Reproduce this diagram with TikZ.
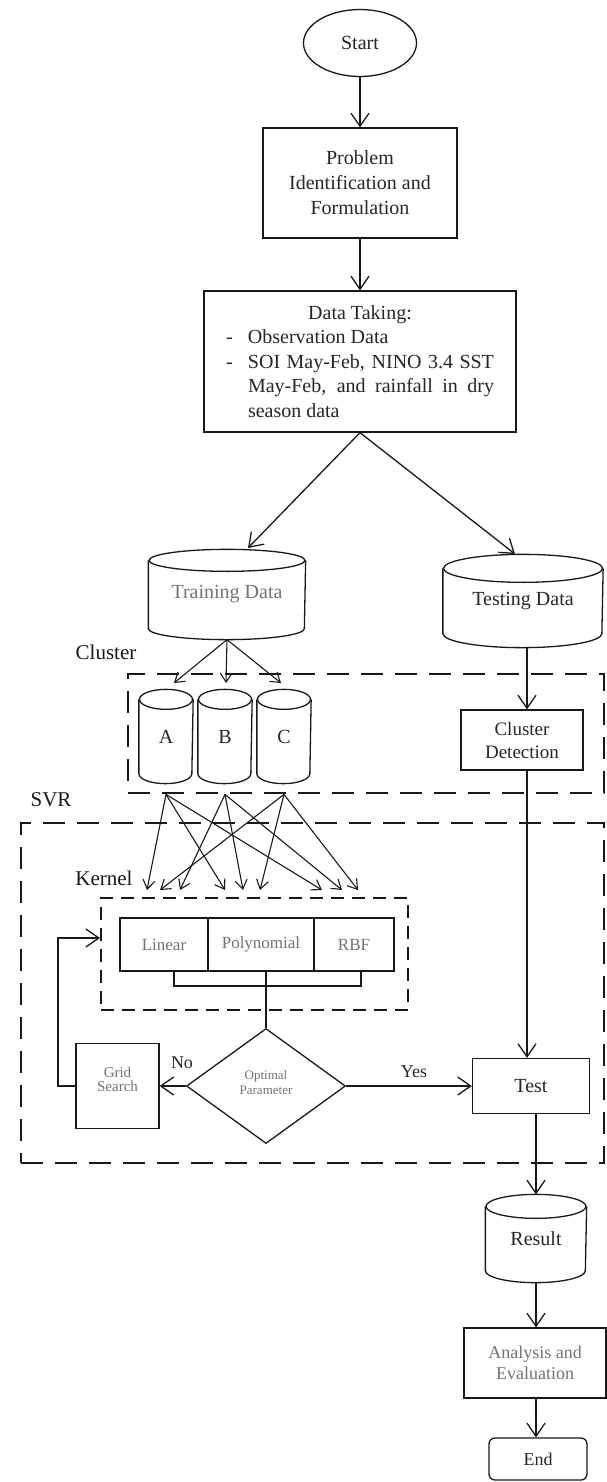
\documentclass[tikz,border=0pt]{standalone}
\usepackage{fontspec}
\setmainfont{Liberation Serif}
\usetikzlibrary{shapes.geometric,arrows.meta,calc}
\newcommand\cylout[3]{%
  \draw ([yshift=-#3pt]#1.north) ellipse [x radius=#2pt, y radius=#3pt];
  \draw ([yshift=-#3pt]#1.north west) -- ([yshift=#3pt]#1.south west)
     arc [start angle=180, end angle=360, x radius=#2pt, y radius=#3pt]
     -- ([yshift=-#3pt]#1.north east);}
\begin{document}
\begin{tikzpicture}[x=1pt,y=-1pt, line width=1.3pt, color=black!90,
  base/.style={font=\fontsize{20}{25}\selectfont, text=black!85, inner sep=0pt, align=center},
  box/.style={base, draw, rectangle},
  cylbody/.style={base, rectangle},
  faint/.style={text=black!55},
  lbl/.style={base, font=\fontsize{21}{24}\selectfont, text=black!90},
  arr/.style={-{Straight Barb[length=13pt,width=18pt]}},
  sarr/.style={line width=1.1pt, -{Straight Barb[length=9pt,width=12pt]}},
  bigdash/.style={draw, rectangle, line width=2.8pt, dash pattern=on 22pt off 12pt, inner sep=0pt},
  kdash/.style={draw, rectangle, line width=2pt, dash pattern=on 13pt off 8pt, inner sep=0pt},
]
\fill[white] (0,0) rectangle (607,1482);
\useasboundingbox (0,0) rectangle (607,1482);

% main column
\node[base, draw, ellipse, minimum width=113pt, minimum height=67pt] (start) at (360,43) {Start};
\node[box, minimum width=194pt, minimum height=110pt] (prob) at (360,183) {Problem\\Identification and\\Formulation};
\node[box, minimum width=312pt, minimum height=141pt] (data) at (360,361.5) {\parbox{268pt}{\fontsize{20}{24.5}\selectfont
{\centering Data Taking:\par}
\hangindent=22pt\hangafter=1\noindent\makebox[22pt][l]{-}Observation Data\par
\hangindent=22pt\hangafter=1\noindent\makebox[22pt][l]{-}SOI May-Feb, NINO 3.4 SST\linebreak May-Feb, and rainfall in dry\linebreak season data\par}};

% data stores
\node[cylbody, faint, minimum width=156pt, minimum height=89pt] (train) at (227,594.5) {\raisebox{-5pt}{Training Data}};
\cylout{train}{78}{11}
\node[cylbody, minimum width=159pt, minimum height=92pt] (testing) at (523,601) {\raisebox{-2pt}{Testing Data}};
\cylout{testing}{79.5}{14}

% cluster
\node[lbl] (clusterlbl) at (106,652) {Cluster};
\node[bigdash, minimum width=476pt, minimum height=119pt] (cluster) at (366,733.5) {};
\node[cylbody, minimum width=53pt, minimum height=93pt] (A) at (166,736.5) {A};
\node[cylbody, minimum width=53pt, minimum height=93pt] (B) at (225,736.5) {B};
\node[cylbody, minimum width=53pt, minimum height=93pt] (C) at (284,736.5) {C};
\cylout{A}{26.5}{10}
\cylout{B}{26.5}{10}
\cylout{C}{26.5}{10}
\node[box, font=\fontsize{19}{23}\selectfont, minimum width=122pt, minimum height=60pt] (cd) at (522,740) {Cluster\\Detection};

% SVR
\node[lbl] (svrlbl) at (51,800) {SVR};
\node[bigdash, minimum width=583pt, minimum height=340pt] (svr) at (312.5,993) {};
\node[lbl] (kernellbl) at (104,878) {Kernel};
\node[kdash, minimum width=307pt, minimum height=112pt] (kernel) at (254.5,954) {};
\node[box, faint, font=\fontsize{17}{20}\selectfont, minimum width=88pt, minimum height=53pt] (lin) at (164,944.5) {Linear};
\node[box, faint, font=\fontsize{17}{20}\selectfont, minimum width=106pt, minimum height=53pt] (poly) at (261,944.5) {Polynomial};
\node[box, faint, font=\fontsize{17}{20}\selectfont, minimum width=80pt, minimum height=53pt] (rbf) at (354,944.5) {RBF};
\node[base, draw, diamond, faint, font=\fontsize{13}{16}\selectfont, minimum width=159pt, minimum height=115pt] (diam) at (266,1086) {\raisebox{7pt}{\shortstack{Optimal\\Parameter}}};
\node[box, faint, font=\fontsize{15}{18}\selectfont, minimum width=83pt, minimum height=85pt] (grid) at (117.5,1086) {\raisebox{13pt}{\shortstack{Grid\\Search}}};
\node[base, font=\fontsize{18}{20}\selectfont] (nolbl) at (182,1063) {No};
\node[base, font=\fontsize{18}{20}\selectfont] (yeslbl) at (414,1072) {Yes};
\node[box, minimum width=117pt, minimum height=55pt] (test) at (531,1086) {Test};

% output
\node[cylbody, minimum width=100pt, minimum height=87pt] (result) at (536,1238.5) {Result};
\cylout{result}{50}{12}
\node[box, faint, font=\fontsize{18}{21}\selectfont, minimum width=142pt, minimum height=70pt] (anal) at (535,1363) {Analysis and\\Evaluation};
\node[box, rounded corners=6pt, font=\fontsize{18}{21}\selectfont, minimum width=98pt, minimum height=42pt] (endn) at (538,1459) {End};

% connectors main
\draw[arr] (start.south) -- (prob.north);
\draw[arr] (prob.south) -- (data.north);
\coordinate (tT) at (248,548);
\coordinate (tS) at (515,554);
\draw[arr] (data.south) -- (tT);
\draw[arr] (data.south) -- (tS);
\coordinate (tA) at (174,683);
\coordinate (tB) at (226,683);
\coordinate (tC) at (281,683);
\draw[sarr] (train.south) -- (tA);
\draw[sarr] (train.south) -- (tB);
\draw[sarr] (train.south) -- (tC);

% cluster to kernel
\coordinate (kA1) at (147,890);
\coordinate (kA2) at (225,890);
\coordinate (kA3) at (322,890);
\coordinate (kB1) at (180,890);
\coordinate (kB2) at (243,890);
\coordinate (kB3) at (342,890);
\coordinate (kC1) at (160,890);
\coordinate (kC2) at (260,890);
\coordinate (kC3) at (358,890);
\foreach \s in {A,B,C}{\foreach \i in {1,2,3}{\draw[sarr] (\s.south |- cluster.south) -- (k\s\i);}}

% kernel bracket and decision
\coordinate (bl) at (174,986);
\coordinate (br) at (361,986);
\draw (bl |- lin.south) -- (bl) -- (br) -- (br |- rbf.south);
\draw (diam.north |- poly.south) -- (diam.north);
\draw[arr] (diam.west) -- (grid.east);
\draw[arr] (diam.east) -- (test.west);
\coordinate (fb) at (58,938);
\draw[arr] (grid.west) -| (fb) -- (fb -| kernel.west);

% right column
\coordinate (col) at (527,0);
\draw[arr] (testing.south -| col) -- (cd.north -| col);
\draw[arr] (cd.south -| col) -- (test.north -| col);
\draw[arr] (result.north |- test.south) -- (result.north);
\draw[arr] (result.south) -- (result.south |- anal.north);
\draw[arr] (result.south |- anal.south) -- (result.south |- endn.north);
\end{tikzpicture}
\end{document}
